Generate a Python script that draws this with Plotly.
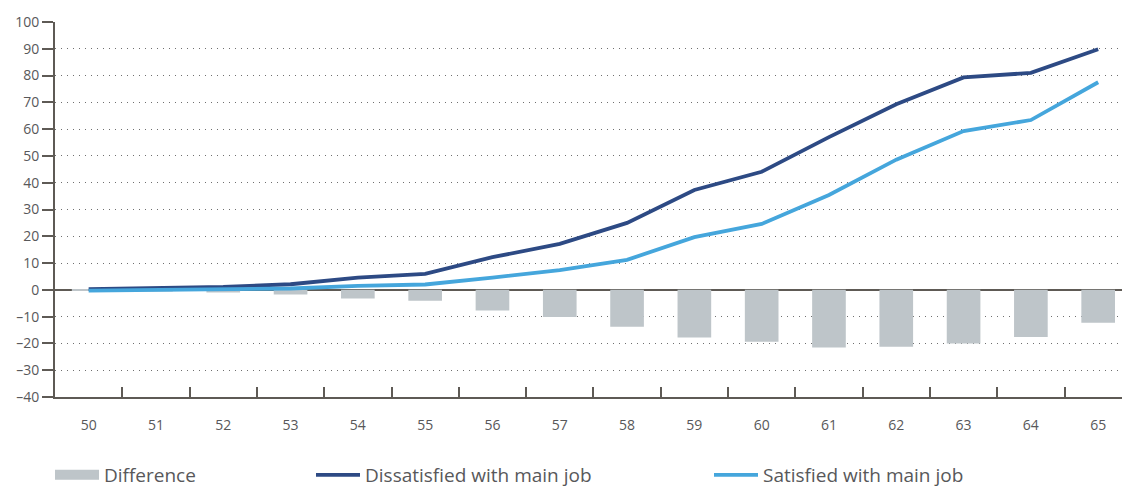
import plotly.graph_objects as go

ages = ["50", "51", "52", "53", "54", "55", "56", "57", "58", "59", "60", "61", "62", "63", "64", "65"]
dissatisfied = [0.3, 0.6, 1.1, 2.1, 4.6, 6.0, 12.2, 17.2, 25.0, 37.3, 44.1, 57.0, 69.3, 79.3, 81.0, 89.8]
satisfied = [-0.3, -0.1, 0.2, 0.5, 1.5, 2.0, 4.6, 7.4, 11.2, 19.7, 24.6, 35.4, 48.6, 59.3, 63.4, 77.5]
difference = [-0.3, -0.6, -1.0, -1.7, -3.2, -4.1, -7.7, -10.1, -13.8, -17.8, -19.4, -21.5, -21.2, -20.0, -17.6, -12.3]

GREY_TXT = "#58585a"
AXIS = "#5e5a55"
BAR = "#bec5c9"
DARK = "#2d4a84"
LIGHT = "#45a6dc"
FONT = "Open Sans"

fig = go.Figure()
fig.add_trace(go.Bar(x=ages, y=difference, name="Difference", marker_color=BAR,
                     marker_line_width=0, width=0.5, showlegend=False, legendgroup="diff"))
# legend swatch for the bars (large block, as in the original)
fig.add_trace(go.Scatter(x=[None], y=[None], name="Difference", mode="lines",
                         line=dict(color=BAR, width=22), legend="legend", legendgroup="diff"))
fig.add_trace(go.Scatter(x=ages, y=dissatisfied, name="Dissatisfied with main job", mode="lines",
                         line=dict(color=DARK, width=3.8), legend="legend2"))
fig.add_trace(go.Scatter(x=ages, y=satisfied, name="Satisfied with main job", mode="lines",
                         line=dict(color=LIGHT, width=3.8), legend="legend3"))

leg_common = dict(orientation="h", xref="container", yref="container", y=(489 - 475) / 489,
                  yanchor="middle", xanchor="left", font=dict(family=FONT, size=19, color=GREY_TXT),
                  bgcolor="rgba(0,0,0,0)", itemwidth=44, maxheight=80)

fig.update_layout(
    width=1122, height=489,
    margin=dict(l=55, r=0, t=22, b=92, autoexpand=False),
    plot_bgcolor="white", paper_bgcolor="white",
    font=dict(family=FONT, color=GREY_TXT, size=14),
    showlegend=True,
    legend=dict(leg_common, x=50 / 1122),
    legend2=dict(leg_common, x=311 / 1122),
    legend3=dict(leg_common, x=709 / 1122),
    bargap=0.5,
)
fig.update_xaxes(
    type="category", range=[-0.5, 15.354], automargin=False,
    showline=True, linecolor=AXIS, linewidth=2,
    ticks="inside", tickson="boundaries", ticklen=10, tickwidth=1.5, tickcolor=AXIS,
    showgrid=False, ticklabelstandoff=14,
    tickfont=dict(family=FONT, size=14, color=GREY_TXT),
)
fig.update_yaxes(
    range=[-40, 100], tickvals=list(range(-40, 101, 10)), automargin=False,
    ticktext=[("\u2013" + str(-v)) if v < 0 else str(v) for v in range(-40, 101, 10)],
    showline=True, linecolor=AXIS, linewidth=2,
    ticks="outside", ticklen=11, tickwidth=1.5, tickcolor=AXIS,
    showgrid=True, gridcolor="#6f6f6f", griddash="1px,5px", gridwidth=1.2,
    zeroline=True, zerolinecolor=AXIS, zerolinewidth=1.5,
    tickfont=dict(family=FONT, size=14, color=GREY_TXT),
)

fig.write_html("out.html", config={"displayModeBar": False},
               post_script="document.body.style.margin='0px';")
